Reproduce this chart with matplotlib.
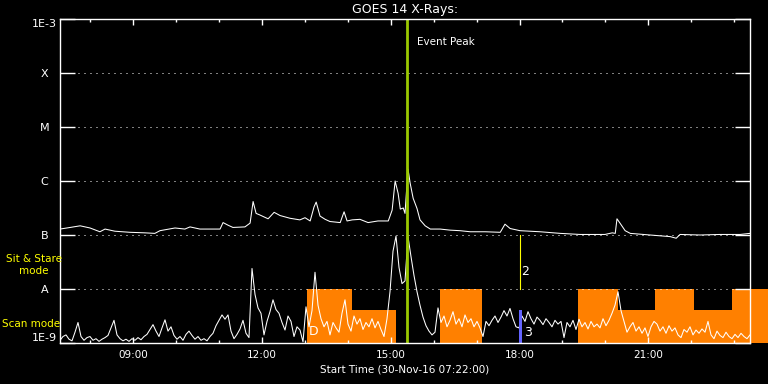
import numpy as np
import matplotlib.pyplot as plt
from matplotlib.ticker import MultipleLocator, NullLocator

# GOES 14 long channel (1-8 A), log10 flux
long_time = [7.29, 7.45, 7.76, 7.99, 8.22, 8.34, 8.57, 8.92, 9.27, 9.50,
             9.62, 9.97, 10.20, 10.32, 10.55, 10.90, 11.02, 11.09, 11.21, 11.32,
             11.60, 11.72, 11.79, 11.86, 11.95, 12.14, 12.28, 12.42, 12.65, 12.88,
             13.00, 13.12, 13.21, 13.26, 13.35, 13.47, 13.58, 13.82, 13.91, 13.98,
             14.10, 14.28, 14.47, 14.70, 14.94, 15.03, 15.10, 15.17, 15.22, 15.29,
             15.33, 15.40, 15.45, 15.52, 15.61, 15.68, 15.80, 15.92, 16.15, 16.38,
             16.61, 16.85, 17.20, 17.55, 17.66, 17.78, 18.01, 18.48, 18.95, 19.41,
             19.65, 19.99, 20.16, 20.23, 20.27, 20.34, 20.46, 20.58, 21.04, 21.51,
             21.65, 21.74, 22.21, 22.67, 23.14, 23.37]
long_log = [-6.89, -6.87, -6.83, -6.87, -6.94, -6.89, -6.93, -6.95, -6.96, -6.97,
            -6.92, -6.87, -6.89, -6.85, -6.89, -6.89, -6.89, -6.77, -6.82, -6.86,
            -6.85, -6.78, -6.38, -6.60, -6.63, -6.70, -6.58, -6.64, -6.69, -6.72,
            -6.68, -6.74, -6.48, -6.39, -6.65, -6.71, -6.75, -6.77, -6.57, -6.74,
            -6.72, -6.71, -6.77, -6.74, -6.74, -6.54, -6.00, -6.23, -6.52, -6.50,
            -6.60, -5.78, -6.04, -6.32, -6.51, -6.72, -6.83, -6.89, -6.89, -6.91,
            -6.92, -6.94, -6.94, -6.95, -6.80, -6.88, -6.92, -6.94, -6.97, -6.99,
            -6.99, -6.99, -6.96, -6.97, -6.70, -6.78, -6.92, -6.97, -7.00, -7.03,
            -7.06, -6.99, -7.00, -6.99, -6.99, -6.97]

# short channel (0.5-4 A), log10 flux, evenly sampled from start to end
short_start, short_end = 7.29, 23.37
short_log = [
    -8.95, -8.88, -8.85, -8.93, -8.96, -8.80, -8.62, -8.88, -8.95, -8.90,
    -8.88, -8.95, -8.92, -8.97, -8.93, -8.90, -8.86, -8.72, -8.58, -8.85,
    -8.92, -8.96, -8.93, -8.97, -8.92, -8.95, -8.90, -8.94, -8.88, -8.84,
    -8.75, -8.66, -8.78, -8.88, -8.72, -8.57, -8.78, -8.70, -8.86, -8.93,
    -8.88, -8.95, -8.84, -8.78, -8.86, -8.93, -8.88, -8.95, -8.92, -8.96,
    -8.88, -8.82, -8.68, -8.58, -8.48, -8.56, -8.48, -8.78, -8.92, -8.84,
    -8.74, -8.58, -8.82, -8.90, -7.62, -8.10, -8.35, -8.45, -8.85, -8.60,
    -8.42, -8.20, -8.38, -8.45, -8.62, -8.76, -8.50, -8.60, -8.88, -8.70,
    -8.76, -8.98, -8.33, -8.70, -8.40, -7.69, -8.30, -8.55, -8.70, -8.60,
    -8.85, -8.62, -8.72, -8.80, -8.45, -8.20, -8.65, -8.78, -8.50, -8.65,
    -8.55, -8.75, -8.62, -8.70, -8.55, -8.72, -8.60, -8.75, -8.88, -8.55,
    -8.05, -7.30, -7.02, -7.60, -7.90, -7.85, -7.03, -7.40, -7.75, -8.05,
    -8.30, -8.52, -8.68, -8.78, -8.85, -8.80, -8.35, -8.62, -8.50, -8.70,
    -8.58, -8.42, -8.65, -8.55, -8.70, -8.48, -8.62, -8.55, -8.70, -8.60,
    -8.72, -8.88, -8.60, -8.68, -8.58, -8.50, -8.62, -8.52, -8.40, -8.50,
    -8.36, -8.55, -8.70, -8.72, -8.50, -8.60, -8.42, -8.55, -8.65, -8.52,
    -8.58, -8.66, -8.55, -8.62, -8.70, -8.58, -8.65, -8.60, -8.90, -8.62,
    -8.70, -8.58, -8.75, -8.56, -8.70, -8.62, -8.74, -8.60, -8.70, -8.65,
    -8.72, -8.55, -8.68, -8.58, -8.45, -8.30, -8.05, -8.40, -8.60, -8.80,
    -8.70, -8.62, -8.78, -8.70, -8.82, -8.72, -8.88, -8.70, -8.60, -8.65,
    -8.78, -8.70, -8.82, -8.68, -8.78, -8.72, -8.85, -8.90, -8.75, -8.80,
    -8.70, -8.85, -8.76, -8.82, -8.74, -8.80, -8.60, -8.85, -8.92, -8.78,
    -8.86, -8.90, -8.80, -8.88, -8.92, -8.84, -8.90, -8.82, -8.88, -8.92,
    -8.85]

# observing mode blocks (orange): full height = sit & stare, low = scan
mode_start = [13.04, 14.09, 16.15, 19.36, 20.30, 21.16, 22.07, 22.95]
mode_end = [14.09, 15.115, 17.12, 20.30, 21.16, 22.07, 22.95, 23.79]
mode_top = [1e-8, 4.1e-9, 1e-8, 1e-8, 4.1e-9, 1e-8, 4.1e-9, 1e-8]

levels = [1e-9, 1e-8, 1e-7, 1e-6, 1e-5, 1e-4, 1e-3]
level_names = ["1E-9", "A", "B", "C", "M", "X", "1E-3"]
hour_ticks = [9, 12, 15, 18, 21]
hour_labels = ["09:00", "12:00", "15:00", "18:00", "21:00"]

event_peak = 15.37
marker2 = 18.0
marker3 = 18.02

fig = plt.figure(figsize=(7.68, 3.84), dpi=100, facecolor="black")
ax = fig.add_axes([60/768, 41/384, 690/768, 324/384])
ax.set_facecolor("black")
ax.set_yscale("log")
ax.set_xlim(short_start, short_end)
ax.set_ylim(1e-9, 1e-3)

for s in ax.spines.values():
    s.set_color("white")
    s.set_linewidth(1.0)
    s.set_zorder(6)

# mode blocks
x0 = np.array(mode_start)
w = np.array(mode_end) - x0
h = np.array(mode_top) - 1e-9
ax.bar(x0, h, width=w, bottom=1e-9, align="edge", color="#ff8000",
       lw=0, zorder=1, clip_on=False)

# dotted class levels
for lv in levels[1:-1]:
    ax.axhline(lv, color="white", lw=0.72, ls=(0, (1, 5)), zorder=3)

t_short = np.linspace(short_start, short_end, len(short_log))
ax.plot(t_short, 10**np.array(short_log), color="white", lw=0.75, zorder=4)
ax.plot(long_time, 10**np.array(long_log), color="white", lw=0.75, zorder=4)

ax.axvline(event_peak, color="#9ac800", lw=2, zorder=5)
ax.text(15.61, 10**-3.435, "Event Peak", color="white", fontsize=7.5,
        va="center", ha="left")

ax.plot([marker2, marker2], [1e-7, 1e-8], color="yellow", lw=0.8, zorder=5)
ax.text(18.03, 10**-7.685, "2", color="white", fontsize=9, va="center", ha="left")
ax.bar(marker3, 4.1e-9 - 1e-9, width=0.065, bottom=1e-9, color="#6464ff",
       lw=0, zorder=5)
ax.text(18.1, 10**-8.8, "3", color="white", fontsize=9, va="center", ha="left",
        zorder=6)
ax.text(13.08, 10**-8.78, "D", color="white", fontsize=9, va="center", ha="left",
        zorder=6)

# axes ticks
ax.set_yticks(levels)
ax.set_yticklabels(level_names)
ax.yaxis.set_minor_locator(NullLocator())
ax.tick_params(axis="y", which="major", direction="in", length=10.8, width=1,
               color="white", labelcolor="white", labelsize=8, right=True,
               pad=11.2)
ylabs = ax.get_yticklabels()
for lab in ylabs:
    lab.set_ha("center")
ylabs[0].set_va("bottom")
ylabs[-1].set_va("top")

ax.set_xticks(hour_ticks)
ax.set_xticklabels(hour_labels)
ax.xaxis.set_minor_locator(MultipleLocator(1))
ax.tick_params(axis="x", which="major", direction="in", length=4.3, width=1,
               color="white", labelcolor="white", labelsize=7.5, top=True, pad=5)
ax.tick_params(axis="x", which="minor", direction="in", length=2.2, width=1,
               color="white", top=True)

fig.text(405/768, 1 - 9.5/384, "GOES 14 X-Rays:", color="white", fontsize=9,
         ha="center", va="center")
fig.text(405/768, 1 - 369/384, "Start Time (30-Nov-16 07:22:00)", color="white",
         fontsize=7.5, ha="center", va="center")
fig.text(34/768, 1 - 265/384, "Sit & Stare\nmode", color="yellow", fontsize=7.5,
         ha="center", va="center", linespacing=1.2)
fig.text(2/768, 1 - 324/384, "Scan mode", color="yellow", fontsize=7.5,
         ha="left", va="center")

fig.savefig("out.png", dpi=100, facecolor="black")
